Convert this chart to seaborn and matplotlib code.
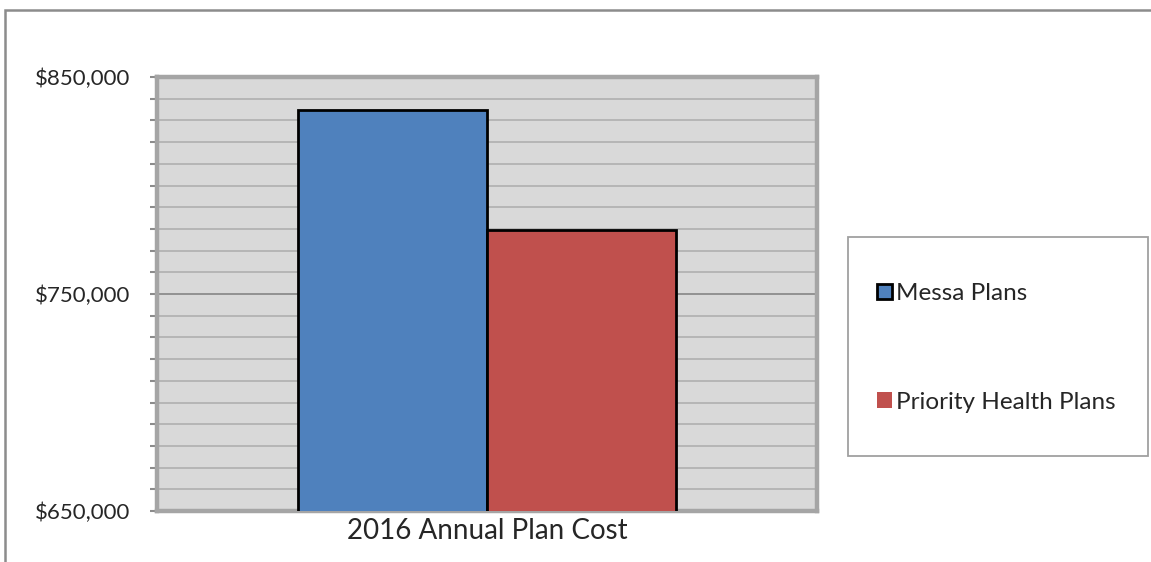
import pandas as pd
import matplotlib.pyplot as plt
import matplotlib.ticker as mticker
from matplotlib.patches import Rectangle, Patch
import seaborn as sns

# data
category = ["2016 Annual Plan Cost"]
plans = ["Messa Plans", "Priority Health Plans"]
costs = [835000, 779500]
colors = ["#4F81BD", "#C0504D"]
y_ticks = [650000, 750000, 850000]

df = pd.DataFrame({
    "cat": category * len(plans),
    "plan": plans,
    "cost": costs,
})

sns.set_style("white")
plt.rcParams['font.family'] = ['Lato', 'DejaVu Sans']

fig = plt.figure(figsize=(11.51, 5.62), dpi=100)
ax = fig.add_axes([157 / 1151, 1 - 511 / 562, 660 / 1151, 434 / 562])
ax.set_facecolor("#d9d9d9")

sns.barplot(data=df, x="cat", y="cost", hue="plan", palette=colors,
            width=0.573, gap=0, edgecolor="black", linewidth=2,
            saturation=1, legend=False, ax=ax, zorder=3)

ax.set_xlim(-0.5, 0.5)
ax.set_ylim(650000, 850000)
ax.yaxis.set_major_locator(mticker.FixedLocator(y_ticks))
ax.yaxis.set_minor_locator(mticker.MultipleLocator(10000))
ax.yaxis.set_major_formatter(mticker.StrMethodFormatter("${x:,.0f}"))

ax.grid(axis="y", which="minor", color="#b3b3b3", linewidth=1.3, zorder=1)
ax.grid(axis="y", which="major", color="#8c8c8c", linewidth=1.3, zorder=1)
ax.set_axisbelow(True)

for side in ["top", "right", "bottom", "left"]:
    ax.spines[side].set_visible(True)
    ax.spines[side].set_color("#a5a5a5")
    ax.spines[side].set_linewidth(3.2)

ax.tick_params(axis="y", which="both", direction="out", length=5, width=1.5,
               color="#8c8c8c", left=True, labelsize=16, pad=14)
ax.tick_params(axis="x", length=0, labelsize=20, pad=5)
ax.set_xlabel("")
ax.set_ylabel("")

# legend in its own box
fig.add_artist(Rectangle((848 / 1151, 1 - 456 / 562), 300 / 1151, 219 / 562,
                         transform=fig.transFigure, facecolor="white",
                         edgecolor="#a0a0a0", linewidth=1.3))
handles = [Patch(facecolor=colors[0], edgecolor="black", linewidth=2),
           Patch(facecolor=colors[1], edgecolor="none")]
fig.legend(handles, plans, loc="center left",
           bbox_to_anchor=(877 / 1151, 1 - 348 / 562), frameon=False,
           fontsize=17.5, labelspacing=3.6, handlelength=0.6, handleheight=0.6,
           handletextpad=0.2, borderpad=0, borderaxespad=0)

# outer chart frame (only top and left visible)
fig.add_artist(Rectangle((5 / 1151, -0.1), 1.2, 1 - 10 / 562 + 0.1,
                         transform=fig.transFigure, fill=False,
                         edgecolor="#8c8c8c", linewidth=1.8))

fig.savefig("out.png", dpi=100)
